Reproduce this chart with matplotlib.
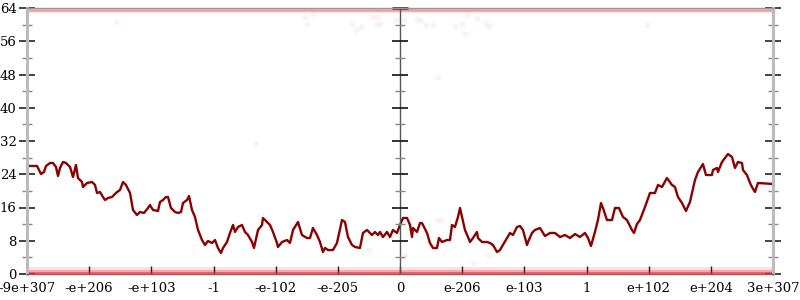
import numpy as np
import matplotlib
matplotlib.use("Agg")
import matplotlib.pyplot as plt
from matplotlib.ticker import MultipleLocator

plt.rcParams['font.family'] = ['DejaVu Serif']

# tick labels along x (evenly spaced positions 0..12)
x_labels = ['-9e+307', '-e+206', '-e+103', '-1', '-e-102', '-e-205', '0',
            'e-206', 'e-103', '1', 'e+102', 'e+204', '3e+307']

# main trace, x in tick units, y in data units
line_x = [0.000, 0.161, 0.225, 0.273, 0.306, 0.370, 0.418, 0.466, 0.499, 0.531,
          0.579, 0.627, 0.692, 0.740, 0.788, 0.820, 0.885, 0.901, 0.965, 1.046,
          1.094, 1.126, 1.174, 1.222, 1.255, 1.303, 1.367, 1.448, 1.496, 1.544,
          1.592, 1.657, 1.705, 1.769, 1.818, 1.882, 1.946, 1.978, 2.027, 2.107,
          2.139, 2.188, 2.236, 2.268, 2.316, 2.381, 2.429, 2.477, 2.509, 2.574,
          2.606, 2.654, 2.702, 2.751, 2.815, 2.863, 2.911, 2.976, 3.024, 3.072,
          3.120, 3.153, 3.217, 3.265, 3.314, 3.346, 3.394, 3.458, 3.507, 3.555,
          3.619, 3.651, 3.716, 3.780, 3.796, 3.860, 3.909, 3.957, 4.021, 4.037,
          4.102, 4.182, 4.230, 4.279, 4.359, 4.423, 4.504, 4.552, 4.600, 4.665,
          4.713, 4.761, 4.793, 4.842, 4.922, 4.986, 5.067, 5.115, 5.163, 5.228,
          5.276, 5.356, 5.404, 5.469, 5.517, 5.549, 5.598, 5.646, 5.678, 5.726,
          5.791, 5.839, 5.887, 5.952, 6.000, 6.048, 6.113, 6.161, 6.193, 6.209,
          6.273, 6.322, 6.354, 6.434, 6.482, 6.531, 6.595, 6.627, 6.675, 6.756,
          6.804, 6.836, 6.884, 6.933, 6.965, 6.997, 7.045, 7.094, 7.126, 7.174,
          7.238, 7.254, 7.319, 7.399, 7.447, 7.496, 7.560, 7.608, 7.656, 7.721,
          7.769, 7.817, 7.882, 7.930, 7.978, 8.043, 8.059, 8.123, 8.171, 8.252,
          8.332, 8.413, 8.493, 8.573, 8.654, 8.734, 8.815, 8.895, 8.975, 9.024,
          9.072, 9.136, 9.184, 9.233, 9.265, 9.329, 9.410, 9.458, 9.522, 9.587,
          9.651, 9.731, 9.764, 9.812, 9.860, 9.941, 10.021, 10.101, 10.150, 10.214,
          10.294, 10.375, 10.423, 10.471, 10.536, 10.600, 10.664, 10.745, 10.793, 10.873,
          10.922, 11.018, 11.034, 11.099, 11.115, 11.179, 11.227, 11.276, 11.340, 11.388,
          11.436, 11.501, 11.517, 11.581, 11.630, 11.662, 11.710, 11.758, 12.000]
line_y = [25.99, 25.99, 24.06, 24.54, 25.99, 26.71, 26.71, 25.75, 23.58, 25.51,
          26.95, 26.71, 25.75, 23.34, 26.23, 23.10, 22.14, 20.93, 21.90, 22.14,
          21.42, 19.49, 19.73, 18.53, 17.81, 18.29, 18.53, 19.73, 20.21, 22.14,
          21.42, 19.49, 15.40, 14.20, 14.92, 14.68, 15.88, 16.60, 15.40, 15.16,
          17.32, 17.81, 18.53, 18.53, 15.88, 14.92, 14.68, 14.92, 17.08, 17.81,
          18.77, 15.40, 13.72, 10.59, 8.18, 6.98, 7.94, 7.46, 8.18, 6.26,
          5.05, 6.26, 7.70, 9.87, 11.79, 10.11, 11.31, 11.79, 10.11, 9.38,
          7.70, 6.26, 10.59, 11.79, 13.47, 12.51, 11.79, 10.11, 7.46, 6.50,
          7.70, 8.18, 7.46, 10.59, 12.51, 9.38, 8.66, 8.66, 11.07, 9.38,
          7.70, 5.29, 6.26, 5.77, 5.77, 7.46, 12.99, 12.51, 8.90, 6.98,
          6.50, 6.26, 9.87, 10.59, 9.87, 9.38, 10.11, 9.38, 10.11, 8.90,
          10.11, 8.90, 10.59, 9.87, 11.79, 13.47, 13.47, 11.79, 8.90, 11.07,
          10.11, 12.27, 12.27, 9.87, 7.46, 6.26, 6.26, 8.66, 7.70, 8.18,
          8.18, 11.79, 11.31, 13.72, 15.88, 13.72, 10.59, 8.90, 7.70, 8.66,
          10.11, 8.66, 7.70, 7.70, 7.46, 6.98, 5.29, 5.77, 6.98, 8.66,
          9.87, 9.38, 11.31, 11.55, 10.59, 6.98, 7.70, 9.87, 10.59, 11.07,
          9.14, 9.87, 9.87, 8.90, 9.38, 8.66, 9.62, 8.90, 9.87, 8.66,
          6.74, 10.11, 12.99, 17.08, 15.88, 12.99, 12.99, 15.88, 15.88, 13.72,
          12.99, 10.59, 9.87, 12.03, 12.99, 16.12, 19.49, 19.49, 21.42, 20.93,
          23.10, 21.42, 20.93, 18.53, 17.08, 15.16, 17.32, 22.62, 24.54, 26.47,
          23.82, 23.82, 25.02, 25.51, 24.54, 26.95, 27.91, 28.87, 28.15, 25.51,
          26.95, 26.71, 25.02, 23.82, 21.90, 20.93, 19.73, 21.90, 21.66]

# sparse faint samples away from the two bands
dots_x = [1.432, 4.472, 4.504, 4.600, 5.228, 5.292, 5.372, 5.549, 5.630, 5.614,
          5.678, 5.935, 6.064, 6.273, 6.338, 6.418, 6.530, 6.611, 6.884, 6.997,
          7.045, 7.077, 7.238, 7.367, 7.431, 9.973, 5.501, 6.080, 6.595, 6.659,
          7.174, 7.415, 3.683]
dots_y = [60.6, 61.8, 60.2, 62.6, 60.2, 58.7, 59.4, 61.8, 61.8, 60.2,
          60.4, 61.1, 61.1, 61.4, 60.9, 59.9, 59.9, 47.4, 59.7, 60.2,
          57.7, 62.6, 61.6, 60.4, 59.7, 59.9, 5.8, 4.6, 13.0, 13.0,
          2.6, 4.6, 31.5]

fig = plt.figure(figsize=(8, 3), dpi=100)
ax = fig.add_axes([27 / 800, 26 / 300, 746 / 800, 266 / 300])

# dense bands of samples at the limits
ax.axhspan(0, 1.6, color='#f04050', alpha=0.16, lw=0)
ax.axhspan(0, 0.9, color='#e83040', alpha=0.30, lw=0)
ax.axhline(0.25, color='#e02838', alpha=0.55, lw=1.5)
ax.axhspan(62.7, 64, color='#f04050', alpha=0.15, lw=0)
ax.axhline(63.4, color='#e83040', alpha=0.40, lw=1.8)

ax.scatter(dots_x, dots_y, s=18, color='#f06070', alpha=0.08, lw=0)

ax.plot(line_x, line_y, color='#8b0000', lw=1.7, solid_joinstyle='round')

# center axis with its own ticks
ax.axvline(6, color='#555555', lw=1)
major = np.arange(8, 64, 8)
minor = np.arange(4, 64, 8)
ax.plot([6] * len(major), major, ls='none', marker='_', ms=11, mew=1.3, color='#222222')
ax.plot([6] * len(minor), minor, ls='none', marker='_', ms=7, mew=1, color='#888888')
ax.plot([6], [64], ls='none', marker='_', ms=11, mew=2, color='#553333', clip_on=False)

ax.set_xlim(0, 12)
ax.set_ylim(0, 64)
ax.set_xticks(range(13))
ax.set_xticklabels(x_labels, fontsize=9.5)
ax.yaxis.set_major_locator(MultipleLocator(8))
ax.yaxis.set_minor_locator(MultipleLocator(4))
ax.tick_params(axis='y', which='major', direction='inout', length=11, width=1.2,
               color='#222222', labelsize=9.5, pad=2, left=True, right=True)
ax.tick_params(axis='y', which='minor', direction='inout', length=7, width=1,
               color='#888888', left=True, right=True)
ax.tick_params(axis='x', which='major', direction='in', length=6, width=1,
               color='#222222', pad=6)

for side in ['left', 'right']:
    ax.spines[side].set_color('#bbbbbb')
    ax.spines[side].set_linewidth(2.2)
ax.spines['top'].set_color('#999999')
ax.spines['top'].set_linewidth(1)
ax.spines['bottom'].set_color('#aa5555')
ax.spines['bottom'].set_linewidth(1)

fig.savefig('out.png', dpi=100)
